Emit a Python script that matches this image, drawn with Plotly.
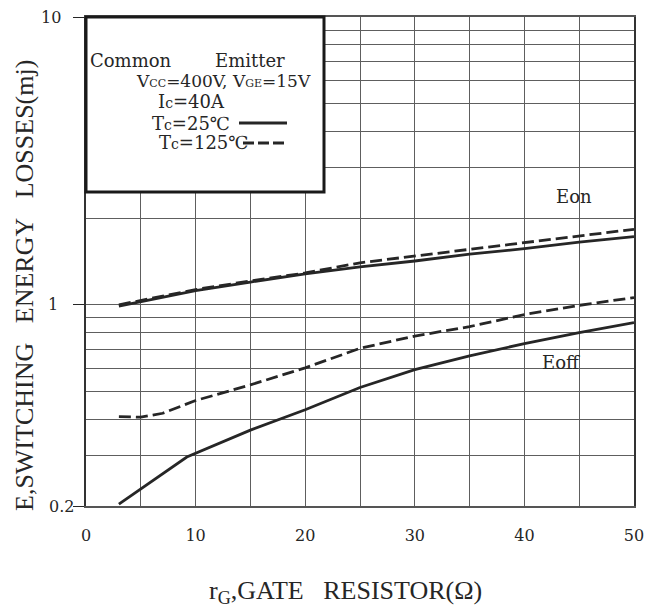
import math
import plotly.graph_objects as go

# Gate resistance (ohm) sample points for each curve
rg_eon = [3, 10, 15, 20, 25, 30, 35, 40, 45, 50]
eon_25 = [0.99, 1.12, 1.20, 1.28, 1.355, 1.42, 1.50, 1.567, 1.65, 1.725]
eon_125 = [1.00, 1.13, 1.21, 1.29, 1.40, 1.477, 1.56, 1.653, 1.735, 1.83]

rg_eoff_125 = [3, 5, 7, 10, 15, 20, 25, 30, 35, 40, 45, 50]
eoff_125 = [0.409, 0.407, 0.42, 0.465, 0.527, 0.604, 0.706, 0.779, 0.84, 0.925, 0.996, 1.06]

rg_eoff_25 = [3, 9.2, 15, 20, 25, 30, 35, 40, 45, 50]
eoff_25 = [0.203, 0.296, 0.367, 0.432, 0.516, 0.595, 0.665, 0.733, 0.80, 0.867]

x_ticks = [0, 10, 20, 30, 40, 50]
x_minor = [5, 15, 25, 35, 45]
y_labels = [0.2, 1, 10]
y_minor = [0.3, 0.4, 0.5, 0.6, 0.7, 0.8, 0.9, 2, 3, 4, 5, 6, 7, 8, 9]

W, H = 649, 608
L, R, T, B = 86, 15, 17, 102
PW, PH = W - L - R, H - T - B


def px(x):
    return (x - L) / PW


def py(y):
    return (H - B - y) / PH


INK = "#262626"
GRID = "#5e5e5e"
SERIF = "DejaVu Serif"
TIMES = "Liberation Serif"

fig = go.Figure()
solid = dict(color=INK, width=2.8)
dashed = dict(color=INK, width=2.8, dash="12px,5px")

fig.add_trace(go.Scatter(x=rg_eon, y=eon_25, mode="lines", line=solid, hoverinfo="skip"))
fig.add_trace(go.Scatter(x=rg_eon, y=eon_125, mode="lines", line=dashed, hoverinfo="skip"))
fig.add_trace(go.Scatter(x=rg_eoff_25, y=eoff_25, mode="lines", line=solid, hoverinfo="skip"))
fig.add_trace(go.Scatter(x=rg_eoff_125, y=eoff_125, mode="lines", line=dashed, hoverinfo="skip"))

fig.update_layout(
    width=W, height=H,
    margin=dict(l=L, r=R, t=T, b=B, pad=0, autoexpand=False),
    paper_bgcolor="white", plot_bgcolor="white",
    showlegend=False,
    font=dict(family=SERIF, size=15, color=INK),
)

fig.update_xaxes(
    range=[0, 50],
    automargin=False,
    tickvals=x_ticks,
    ticks="",
    ticklabelstandoff=14,
    tickfont=dict(family=SERIF, size=16, color=INK),
    showgrid=True, gridcolor=GRID, gridwidth=1,
    minor=dict(tickvals=x_minor, showgrid=True, gridcolor=GRID, gridwidth=1, ticks=""),
    showline=True, linecolor="#555", linewidth=1.5, mirror=True,
    zeroline=False,
)

fig.update_yaxes(
    type="log",
    range=[math.log10(0.2), 1],
    automargin=False,
    tickvals=y_labels,
    showticklabels=False,
    ticks="outside", ticklen=11, tickcolor=INK, tickwidth=1,
    showgrid=True, gridcolor=GRID, gridwidth=1,
    minor=dict(tickvals=y_minor, showgrid=True, gridcolor=GRID, gridwidth=1, ticks=""),
    showline=True, linecolor="#333", linewidth=1.5, mirror=True,
    zeroline=False,
)

# y tick labels, left aligned beside the axis
for v, xl in zip(y_labels, [46.5, 46, 39]):
    fig.add_annotation(text=str(v), x=px(xl), xref="paper", y=math.log10(v), yref="y",
                       xanchor="left", yanchor="middle", showarrow=False,
                       font=dict(family=SERIF, size=16, color=INK))

# conditions box
fig.add_shape(type="rect", xref="paper", yref="paper",
              x0=px(86), x1=px(324), y0=py(192), y1=py(17),
              line=dict(color="#1a1a1a", width=3), fillcolor="white", layer="above")

box_lines = [
    ("Common", 88, 60, 18),
    ("Emitter", 213, 60, 18),
    ("V<span style='font-size:11px'>CC</span>=400V,\u00a0V<span style='font-size:11px'>GE</span>=15V", 134, 81, 17),
    ("I<span style='font-size:14px'>c</span>=40A", 156, 102, 18),
    ("T<span style='font-size:14px'>c</span>=25\u2103", 150, 123, 18),
    ("T<span style='font-size:14px'>c</span>=125\u2103", 157, 143, 18),
]
for txt, xl, yc, fs in box_lines:
    fig.add_annotation(text=txt, x=px(xl), y=py(yc), xref="paper", yref="paper",
                       xanchor="left", yanchor="middle", showarrow=False,
                       font=dict(family=SERIF, size=fs, color=INK))

fig.add_shape(type="line", xref="paper", yref="paper",
              x0=px(239), x1=px(287), y0=py(123), y1=py(123),
              line=dict(color=INK, width=3), layer="above")
fig.add_shape(type="line", xref="paper", yref="paper",
              x0=px(243), x1=px(287), y0=py(143), y1=py(143),
              line=dict(color=INK, width=3, dash="11px,4px"), layer="above")

# curve labels
fig.add_annotation(text="Eon", x=44.5, y=math.log10(2.38), xref="x", yref="y",
                   showarrow=False, font=dict(family=SERIF, size=18, color=INK))
fig.add_annotation(text="Eoff", x=43.3, y=math.log10(0.632), xref="x", yref="y",
                   showarrow=False, font=dict(family=SERIF, size=18, color=INK))

# axis titles
fig.add_annotation(text="r<sub>G</sub>,GATE\u00a0\u00a0\u00a0RESISTOR(\u03a9)",
                   x=px(345), y=py(592), xref="paper", yref="paper",
                   xanchor="center", yanchor="middle", showarrow=False,
                   font=dict(family=TIMES, size=26, color=INK))
fig.add_annotation(text="E,SWITCHING\u00a0\u00a0\u00a0ENERGY\u00a0\u00a0\u00a0LOSSES(mj)",
                   x=px(24), y=py(286), xref="paper", yref="paper", textangle=-90,
                   xanchor="center", yanchor="middle", showarrow=False,
                   font=dict(family=TIMES, size=26, color=INK))

fig.write_html("out.html")
